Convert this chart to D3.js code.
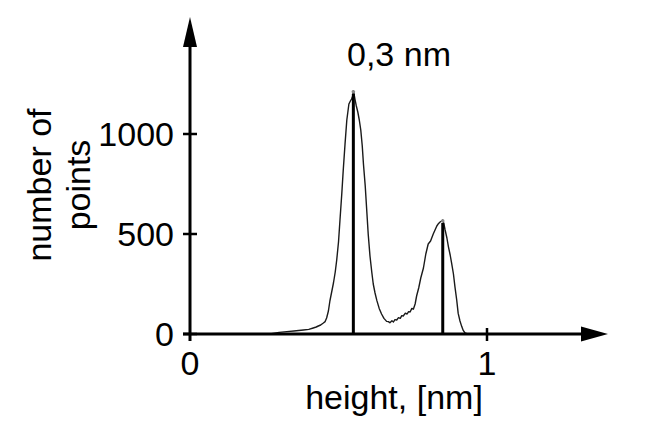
<!DOCTYPE html>
<html>
<head>
<meta charset="utf-8">
<script src="https://cdn.jsdelivr.net/npm/d3@7"></script>
<style>
  html, body { margin: 0; padding: 0; background: #fff; }
  svg { display: block; }
  text { font-family: "Liberation Sans", Arial, sans-serif; fill: #000; }
</style>
</head>
<body>
<svg id="chart" width="662" height="434"></svg>
<script>
// ---- data ----
const heights = [0.269, 0.300, 0.326, 0.350, 0.382, 0.400, 0.415, 0.425, 0.432, 0.440, 0.449, 0.455, 0.460, 0.466, 0.471, 0.477, 0.483, 0.489, 0.494, 0.500, 0.505, 0.511, 0.516, 0.522, 0.528, 0.535, 0.540, 0.544, 0.548, 0.550, 0.553, 0.556, 0.560, 0.565, 0.570, 0.575, 0.580, 0.584, 0.590, 0.595, 0.600, 0.606, 0.612, 0.617, 0.623, 0.629, 0.637, 0.645, 0.653, 0.662, 0.668, 0.673, 0.680, 0.685, 0.690, 0.696, 0.702, 0.708, 0.713, 0.718, 0.725, 0.731, 0.736, 0.741, 0.747, 0.752, 0.758, 0.763, 0.770, 0.777, 0.786, 0.794, 0.802, 0.810, 0.819, 0.825, 0.831, 0.837, 0.842, 0.847, 0.851, 0.855, 0.859, 0.865, 0.870, 0.876, 0.881, 0.887, 0.892, 0.898, 0.903, 0.909, 0.915, 0.920, 0.926, 0.935, 0.943, 1.000, 1.100, 1.240];
const counts  = [0, 8, 12, 15, 20, 23, 30, 35, 40, 45, 55, 62, 80, 115, 165, 210, 255, 310, 370, 460, 570, 700, 820, 950, 1070, 1150, 1165, 1175, 1190, 1216, 1195, 1170, 1140, 1110, 1070, 1020, 940, 850, 740, 620, 500, 390, 310, 250, 205, 168, 128, 100, 78, 63, 62, 56, 66, 60, 72, 70, 82, 78, 92, 90, 104, 100, 112, 110, 128, 124, 150, 190, 230, 280, 330, 400, 450, 465, 500, 520, 540, 553, 560, 565, 570, 550, 520, 480, 437, 395, 353, 300, 237, 170, 103, 65, 37, 18, 5, 1, 0, 0, 0, 0];
const peakHeights = [0.550, 0.851];
const peakCounts = [1216, 570];
const yTicks = [0, 500, 1000];
const xTicks = [0, 1];
const title = "0,3 nm";
const xLabel = "height, [nm]";
const yLabelLines = ["number of", "points"];

// ---- layout ----
const svg = d3.select("#chart");
const x0 = 190, y0 = 334;
const x = d3.scaleLinear().domain([0, 1]).range([x0, 487]);
const y = d3.scaleLinear().domain([0, 1000]).range([y0, 134]);
const FS = 34;

// curve
const data = heights.map((h, i) => [h, counts[i]]);
svg.append("path")
  .datum(data)
  .attr("fill", "none")
  .attr("stroke", "#1a1a1a")
  .attr("stroke-width", 1.4)
  .attr("stroke-linejoin", "round")
  .attr("d", d3.line().x(d => x(d[0])).y(d => y(d[1])));

// peak markers
svg.selectAll("line.peak")
  .data(peakHeights)
  .join("line")
  .attr("class", "peak")
  .attr("x1", d => x(d)).attr("x2", d => x(d))
  .attr("y1", y0).attr("y2", (d, i) => y(peakCounts[i]) + 3)
  .attr("stroke", "#000").attr("stroke-width", 3);
svg.selectAll("circle.peak")
  .data(peakHeights)
  .join("circle")
  .attr("class", "peak")
  .attr("cx", d => x(d)).attr("cy", (d, i) => y(peakCounts[i]) + 1)
  .attr("r", 1.8).attr("fill", "#888");

// axes lines
svg.append("line").attr("x1", 183).attr("x2", 585).attr("y1", y0).attr("y2", y0)
  .attr("stroke", "#000").attr("stroke-width", 3);
svg.append("line").attr("x1", x0).attr("x2", x0).attr("y1", 341).attr("y2", 44)
  .attr("stroke", "#000").attr("stroke-width", 3);
// arrow heads
svg.append("path").attr("d", `M${x0 - 7},47 L${x0},17 L${x0 + 7},47 Z`).attr("fill", "#000");
svg.append("path").attr("d", `M581,${y0 - 7.5} L608,${y0} L581,${y0 + 7.5} Z`).attr("fill", "#000");

// y ticks
svg.selectAll("line.yt").data(yTicks).join("line").attr("class", "yt")
  .attr("x1", 183).attr("x2", 197)
  .attr("y1", d => y(d)).attr("y2", d => y(d))
  .attr("stroke", "#000").attr("stroke-width", 2.5);
svg.selectAll("text.yt").data(yTicks).join("text").attr("class", "yt")
  .attr("x", 174).attr("y", d => y(d) + 12)
  .attr("text-anchor", "end").attr("font-size", FS)
  .text(d => d);

// x ticks
svg.selectAll("line.xt").data(xTicks.filter(d => d > 0)).join("line").attr("class", "xt")
  .attr("x1", d => x(d)).attr("x2", d => x(d))
  .attr("y1", 328).attr("y2", 341)
  .attr("stroke", "#000").attr("stroke-width", 2.5);
svg.selectAll("text.xt").data(xTicks).join("text").attr("class", "xt")
  .attr("x", d => x(d)).attr("y", 375)
  .attr("text-anchor", "middle").attr("font-size", FS)
  .text(d => d);

// labels
svg.append("text").attr("x", 394).attr("y", 409).attr("text-anchor", "middle")
  .attr("font-size", FS).text(xLabel);
svg.append("text").attr("x", 399).attr("y", 66).attr("text-anchor", "middle")
  .attr("font-size", FS).text(title);
svg.selectAll("text.yl").data(yLabelLines).join("text").attr("class", "yl")
  .attr("transform", (d, i) => `translate(${i === 0 ? 51 : 90},185) rotate(-90)`)
  .attr("text-anchor", "middle").attr("font-size", FS)
  .text(d => d);
</script>
</body>
</html>
